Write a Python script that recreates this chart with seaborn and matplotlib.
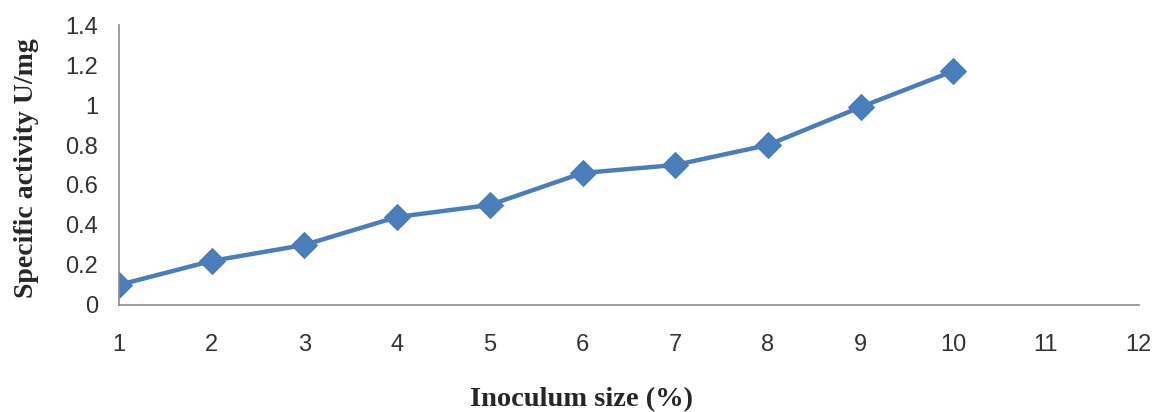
import pandas as pd
import matplotlib
matplotlib.use('Agg')
import matplotlib.pyplot as plt
import seaborn as sns

# Data
inoculum_size = [1, 2, 3, 4, 5, 6, 7, 8, 9, 10]
specific_activity = [0.10, 0.22, 0.30, 0.44, 0.50, 0.66, 0.70, 0.80, 0.99, 1.17]
x_ticks = list(range(1, 13))
y_ticks = [0, 0.2, 0.4, 0.6, 0.8, 1, 1.2, 1.4]
y_tick_labels = ['0', '0.2', '0.4', '0.6', '0.8', '1', '1.2', '1.4']

df = pd.DataFrame({'size': inoculum_size, 'activity': specific_activity})

sns.set_style('white')
plt.rcParams['font.family'] = ['Liberation Sans', 'DejaVu Sans']

fig = plt.figure(figsize=(11.56, 4.12), dpi=100)
ax = fig.add_axes([0.103, 0.26, 0.882, 0.679])

sns.lineplot(data=df, x='size', y='activity', ax=ax, color='#4A7EBB',
             linewidth=3.2, marker='D', markersize=13, markeredgecolor='#4A7EBB')

ax.set_xlim(1, 12)
ax.set_ylim(0, 1.4)
ax.set_xticks(x_ticks)
ax.set_yticks(y_ticks)
ax.set_yticklabels(y_tick_labels)

for side in ['top', 'right']:
    ax.spines[side].set_visible(False)
for side in ['left', 'bottom']:
    ax.spines[side].set_color('#8c8c8c')
    ax.spines[side].set_linewidth(1.2)

ax.tick_params(axis='both', which='major', direction='out', length=7, width=1.2,
               color='#8c8c8c', labelsize=17, labelcolor='#333333')
ax.tick_params(axis='x', pad=14)
ax.tick_params(axis='y', pad=8)

ax.set_xlabel('Inoculum size (%)', family='Liberation Serif', fontweight='bold',
              fontsize=20.5)
ax.xaxis.set_label_coords(0.454, -0.295)
ax.set_ylabel('Specific activity U/mg', family='Liberation Serif', fontweight='bold',
              fontsize=20)
ax.yaxis.set_label_coords(-0.079, 0.49)

fig.savefig('out.png', dpi=100)
